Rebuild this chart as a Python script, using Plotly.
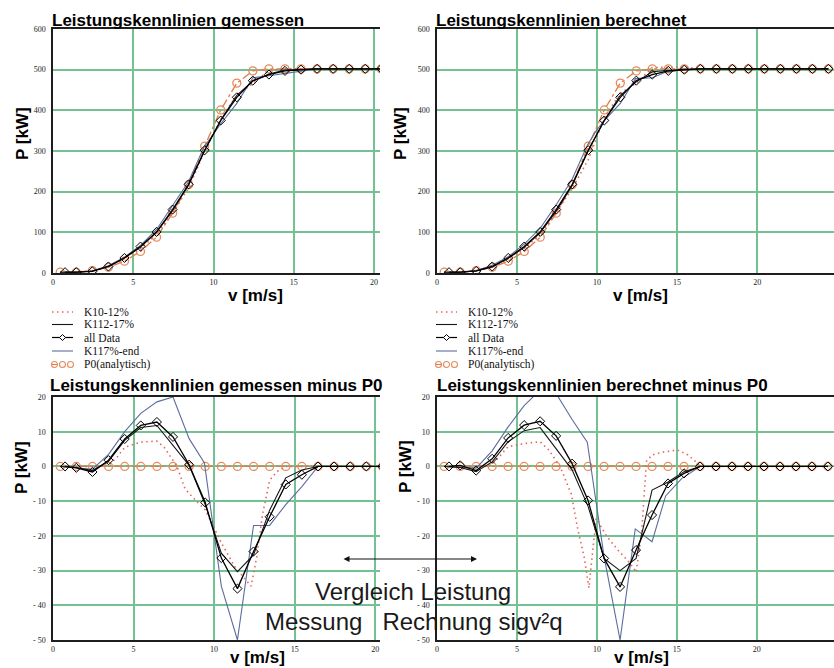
import plotly.graph_objects as go

# ------------------------------------------------------------------ data
SERIES = ["K10-12%", "K112-17%", "all Data", "K117%-end", "P0(analytisch)"]

TITLES = ["Leistungskennlinien gemessen", "Leistungskennlinien berechnet",
          "Leistungskennlinien gemessen minus P0", "Leistungskennlinien berechnet minus P0"]
X_TITLE = "v [m/s]"
Y_TITLE = "P [kW]"

X_TICKS = [0, 5, 10, 15, 20, 25]
X_TICKTEXT = ["0", "5", "10", "15", "20", "25"]
Y_TICKS_TOP = [0, 100, 200, 300, 400, 500, 600]
Y_TICKTEXT_TOP = ["0", "100", "200", "300", "400", "500", "600"]
Y_TICKS_BOT = [-50, -40, -30, -20, -10, 0, 10, 20]
Y_TICKTEXT_BOT = ["- 50", "- 40", "- 30", "- 20", "- 10", "0", "10", "20"]

# wind speed bins
X_L = [0.45, 1.45, 2.45, 3.45, 4.45, 5.45, 6.45, 7.45, 8.45, 9.45, 10.45, 11.45, 12.45,
       13.45, 14.45, 15.45, 16.45, 17.45, 18.45, 19.45, 20.45]
X_R = [0.45, 1.45, 2.45, 3.45, 4.45, 5.45, 6.45, 7.45, 8.45, 9.45, 10.45, 11.45, 12.45,
       13.45, 14.45, 15.45, 16.45, 17.45, 18.45, 19.45, 20.45, 21.45, 22.45, 23.45, 24.45]
X_ALL_L = [0.75, 1.45, 2.45, 3.45, 4.45, 5.45, 6.45, 7.45, 8.45, 9.45, 10.45, 11.45, 12.45,
           13.45, 14.45, 15.45, 16.45, 17.45, 18.45, 19.45, 20.45]
X_ALL_R = [0.75, 1.45, 2.45, 3.45, 4.45, 5.45, 6.45, 7.45, 8.45, 9.45, 10.45, 11.45, 12.45,
           13.45, 14.45, 15.45, 16.45, 17.45, 18.45, 19.45, 20.45, 21.45, 22.45, 23.45, 24.45]

# P0 (analytic) power curve
P0_TL = [2, 2, 6, 14, 29, 53, 88, 147, 217, 312, 401, 467, 497, 502, 502, 502, 502, 502, 502, 502, 502]
P0_TR = [2, 2, 6, 14, 29, 53, 88, 147, 217, 312, 401, 467, 497, 502, 502, 502, 502, 502, 502, 502, 502,
         502, 502, 502, 502]
P0_BL = [0, 0, 0, 0, 0, 0, 0, 0, 0, 0, 0, 0, 0, 0, 0, 0, 0, 0, 0, 0, 0]
P0_BR = [0, 0, 0, 0, 0, 0, 0, 0, 0, 0, 0, 0, 0, 0, 0, 0, 0, 0, 0, 0, 0, 0, 0, 0, 0]

# top-left (gemessen)
TL_K10 = [2, 2, 6, 15, 35, 60, 95, 148, 209, 300, 379, 437, 466, 498, 502, 502, 502, 502, 502, 502, 502]
TL_K112 = [2, 2, 5, 16, 37, 64, 100, 153, 217, 301, 376, 437, 472, 489, 499, 501, 502, 502, 502, 502, 502]
TL_ALL = [2, 2, 4, 16, 37, 65, 101, 156, 218, 302, 375, 432, 473, 488, 497, 500, 502, 502, 502, 502, 502]
TL_K117_X = [0.45, 1.45, 2.45, 3.45, 4.45, 5.45, 6.45, 7.45, 8.45, 9.4, 10.45, 11.45, 12.45, 13.45,
             14.45, 15.45, 16.45, 17.45, 18.45, 19.45, 20.45]
TL_K117 = [2, 2, 5, 18, 39, 68, 107, 167, 225, 309, 367, 417, 480, 485, 491, 496, 502, 502, 502, 502, 502]

# top-right (berechnet)
TR_K10 = [2, 2, 6, 15, 35, 60, 95, 149, 208, 279, 382, 442, 467, 505, 506, 506, 502, 502, 502, 502, 502,
          502, 502, 502, 502]
TR_K112 = [2, 2, 5, 15, 36, 63, 99, 152, 216, 301, 375, 437, 470, 495, 498, 501, 502, 502, 502, 502, 502,
           502, 502, 502, 502]
TR_ALL = [2, 2, 5, 16, 37, 65, 101, 156, 218, 302, 375, 432, 473, 488, 497, 500, 502, 502, 502, 502, 502,
          502, 502, 502, 502]
TR_K117_X = [0.45, 1.45, 2.45, 3.45, 4.45, 5.45, 6.45, 7.45, 8.45, 9.4, 9.95, 10.45, 11.45, 12.4, 13.45,
             14.3, 15.3, 16.45, 17.45, 18.45, 19.45, 20.45, 21.45, 22.45, 23.45, 24.45]
TR_K117 = [2, 2, 6, 19, 40, 71, 110, 168, 231, 315, 350, 375, 417, 478, 480, 494, 499, 502, 502, 502,
           502, 502, 502, 502, 502, 502]

# bottom-left (gemessen minus P0)
BL_K10_X = [0.45, 1.45, 2.45, 3.45, 4.0, 4.45, 5.45, 6.45, 6.9, 7.7, 8.2, 8.9, 9.45, 10.45, 11.3, 12.3,
            12.65, 13.0, 13.45, 13.9, 14.45, 15.45, 16.45, 17.45, 18.45, 19.45, 20.45]
BL_K10 = [0, 0, 0, 0.3, 2.8, 5.5, 7.0, 7.3, 5.5, 0, -6.5, -10, -12.5, -22, -29, -34.5,
          -26, -14, -4, -1.5, 0, 0, 0, 0, 0, 0, 0]
BL_K112 = [0, -0.3, -1.2, 1.5, 7.5, 11.2, 11.8, 6.2, 0.3, -11, -25, -30.3, -25.5, -12.6, -3.3, -1,
           0, 0, 0, 0, 0]
BL_ALL = [0, -0.4, -1.6, 1.8, 7.9, 11.8, 12.8, 8.5, 0.5, -10.4, -26.4, -35.2, -24.5, -14.5, -5.2, -2.4,
          0, 0, 0, 0, 0]
BL_K117_X = [0.45, 1.45, 2.45, 3.45, 4.45, 5.45, 6.45, 7.45, 8.45, 9.4, 10.45, 11.45, 12.45, 13.45,
             14.45, 15.45, 16.45, 17.45, 18.45, 19.45, 20.45]
BL_K117 = [0, -0.3, -0.8, 3.5, 10, 15.3, 18.6, 20, 8, 1, -34.5, -50, -17, -17, -11, -5.8,
           0, 0, 0, 0, 0]

# bottom-right (berechnet minus P0)
BR_K10_X = [0.45, 1.45, 2.45, 3.45, 4.0, 4.45, 5.45, 6.45, 7.0, 7.7, 8.4, 8.8, 9.2, 9.5, 9.95, 10.6,
            11.3, 12.1, 12.45, 12.8, 13.1, 13.45, 14.2, 15.05, 15.7, 16.3, 16.45, 17.45, 18.45, 19.45,
            20.45, 21.45, 22.45, 23.45, 24.45]
BR_K10 = [0, 0, 0, 0.5, 3.3, 5.7, 6.6, 7.1, 4.7, 0, -8, -18, -26, -35, -15, -20,
          -24, -28, -30.5, -19, 1.5, 3.3, 4.2, 4.7, 3.3, 0.9, 0, 0, 0, 0,
          0, 0, 0, 0, 0]
BR_K112 = [0, -0.3, -1.5, 1.3, 7.1, 10.3, 11.2, 5.2, -1.0, -11.5, -26.5, -30, -26.5, -6.8, -4.5, -1.5,
           0, 0, 0, 0, 0, 0, 0, 0, 0]
BR_ALL = [0, 0.3, -1.2, 2.2, 8.2, 11.9, 13.0, 8.8, 0.8, -9.8, -26.5, -34.7, -24.1, -14, -4.9, -2,
          0, 0, 0, 0, 0, 0, 0, 0, 0]
BR_K117_X = [0.45, 1.45, 2.45, 3.45, 4.45, 5.45, 6.45, 7.45, 8.45, 9.4, 9.95, 10.45, 11.45, 12.4, 13.45,
             14.3, 15.3, 16.45, 17.45, 18.45, 19.45, 20.45, 21.45, 22.45, 23.45, 24.45]
BR_K117 = [0, -0.3, -0.5, 4.5, 11.4, 17.5, 22, 21, 13.5, 7, -10, -26, -50, -18, -21.7,
           -8.5, -3.5, 0, 0, 0, 0, 0, 0, 0, 0, 0]

NOTE_1 = "Vergleich Leistung"
NOTE_2 = "Messung\u00a0\u00a0 Rechnung sigv²q"

# ------------------------------------------------------------------ style
W, H = 834, 668


def px(x):
    return x / W


def py(y):
    return 1 - y / H


GRID = "#74c293"
AXLINE = "#1e1e1e"
C_K10 = "#e3675a"
C_K112 = "#161616"
C_ALL = "#000000"
C_K117 = "#5d6c9c"
C_P0_LINE = "#e27a45"
C_P0_MARK = "#e68a5c"
SANS = "Liberation Sans, Arial, sans-serif"
SERIF = "Liberation Serif, Times New Roman, serif"
DOTS = "1.5px,3.5px"

fig = go.Figure()


def add_panel(xa, ya, p0x, p0y, k10x, k10y, k112x, k112y, allx, ally, k117x, k117y):
    fig.add_trace(go.Scatter(
        x=p0x, y=p0y, xaxis=xa, yaxis=ya, name=SERIES[4], mode="lines+markers",
        line=dict(color=C_P0_LINE, width=1.3, dash="dashdot"),
        marker=dict(symbol="circle-open", size=8, color=C_P0_MARK, line=dict(width=1.3))))
    fig.add_trace(go.Scatter(
        x=k10x, y=k10y, xaxis=xa, yaxis=ya, name=SERIES[0], mode="lines",
        line=dict(color=C_K10, width=1.6, dash=DOTS)))
    fig.add_trace(go.Scatter(
        x=k117x, y=k117y, xaxis=xa, yaxis=ya, name=SERIES[3], mode="lines",
        line=dict(color=C_K117, width=1.1)))
    fig.add_trace(go.Scatter(
        x=k112x, y=k112y, xaxis=xa, yaxis=ya, name=SERIES[1], mode="lines",
        line=dict(color=C_K112, width=1.1)))
    fig.add_trace(go.Scatter(
        x=allx, y=ally, xaxis=xa, yaxis=ya, name=SERIES[2], mode="lines+markers",
        line=dict(color=C_ALL, width=1.3),
        marker=dict(symbol="diamond-open", size=7, color=C_ALL, line=dict(width=1))))


add_panel("x", "y", X_L, P0_TL, X_L, TL_K10, X_L, TL_K112, X_ALL_L, TL_ALL, TL_K117_X, TL_K117)
add_panel("x2", "y2", X_R, P0_TR, X_R, TR_K10, X_R, TR_K112, X_ALL_R, TR_ALL, TR_K117_X, TR_K117)
add_panel("x3", "y3", X_L, P0_BL, BL_K10_X, BL_K10, X_L, BL_K112, X_ALL_L, BL_ALL, BL_K117_X, BL_K117)
add_panel("x4", "y4", X_R, P0_BR, BR_K10_X, BR_K10, X_R, BR_K112, X_ALL_R, BR_ALL, BR_K117_X, BR_K117)


def xcfg(domain, rng, anchor):
    return dict(domain=domain, range=rng, anchor=anchor, tickvals=X_TICKS, ticktext=X_TICKTEXT,
                showgrid=True, gridcolor=GRID, gridwidth=2, zeroline=False,
                showline=True, linecolor=AXLINE, linewidth=1.5, mirror=True, ticks="",
                ticklabelstandoff=1,
                tickfont=dict(family=SERIF, size=8, color="#222"), automargin=False, fixedrange=True)


def ycfg(domain, rng, anchor, vals, text):
    return dict(domain=domain, range=rng, anchor=anchor, tickvals=vals, ticktext=text,
                showgrid=True, gridcolor=GRID, gridwidth=2, zeroline=False,
                showline=True, linecolor=AXLINE, linewidth=1.5, mirror=False, ticks="",
                ticklabelstandoff=4,
                tickfont=dict(family=SERIF, size=8, color="#222"), automargin=False, fixedrange=True)


TOP_DOM = [py(273), py(29)]
BOT_DOM = [py(640), py(397)]
LEFT_DOM = [px(53), px(380)]
RIGHT_DOM = [px(437), 1.0]

fig.update_layout(
    xaxis=xcfg(LEFT_DOM, [0, 20.37], "y"),
    yaxis=ycfg(TOP_DOM, [0, 600], "x", Y_TICKS_TOP, Y_TICKTEXT_TOP),
    xaxis2=xcfg(RIGHT_DOM, [0, 24.8], "y2"),
    yaxis2=ycfg(TOP_DOM, [0, 600], "x2", Y_TICKS_TOP, Y_TICKTEXT_TOP),
    xaxis3=xcfg(LEFT_DOM, [0, 20.3], "y3"),
    yaxis3=ycfg(BOT_DOM, [-50, 20], "x3", Y_TICKS_BOT, Y_TICKTEXT_BOT),
    xaxis4=xcfg(RIGHT_DOM, [0, 24.83], "y4"),
    yaxis4=ycfg(BOT_DOM, [-50, 20], "x4", Y_TICKS_BOT, Y_TICKTEXT_BOT),
)

annotations = []
shapes = []

# panel titles
for text, (x0, yc) in zip(TITLES, [(50, 20), (434, 20), (48, 385), (435, 385)]):
    annotations.append(dict(text="<b>%s</b>" % text, x=px(x0), y=py(yc), xref="paper", yref="paper",
                            xanchor="left", yanchor="middle", showarrow=False,
                            font=dict(family=SANS, size=17, color="#000")))

# axis titles
for (xc, yc) in [(255, 296), (640, 296), (257, 657), (641, 657)]:
    annotations.append(dict(text="<b>%s</b>" % X_TITLE, x=px(xc), y=py(yc), xref="paper", yref="paper",
                            xanchor="center", yanchor="middle", showarrow=False,
                            font=dict(family=SANS, size=17, color="#000")))
for (xc, yc) in [(23, 134), (401, 134), (21, 468), (405, 467)]:
    annotations.append(dict(text="<b>%s</b>" % Y_TITLE, x=px(xc), y=py(yc), xref="paper", yref="paper",
                            xanchor="center", yanchor="middle", showarrow=False, textangle=-90,
                            font=dict(family=SANS, size=17, color="#000")))

# manual compact legends (one under each upper panel)
ROWS = [312, 324.5, 337.5, 351, 364.5]


def legend_block(x0):
    def hline(y, color, width, dash="solid", xa=x0, xb=x0 + 21):
        shapes.append(dict(type="line", xref="paper", yref="paper", x0=px(xa), x1=px(xb),
                           y0=py(y), y1=py(y), line=dict(color=color, width=width, dash=dash)))

    hline(ROWS[0], C_K10, 1.4, DOTS)
    hline(ROWS[1], C_K112, 1.1)
    hline(ROWS[2], C_ALL, 1.2)
    cx, cy = x0 + 10.5, ROWS[2]
    shapes.append(dict(type="path", xref="paper", yref="paper",
                       path="M %f,%f L %f,%f L %f,%f L %f,%f Z" % (
                           px(cx), py(cy - 3), px(cx + 3), py(cy), px(cx), py(cy + 3), px(cx - 3), py(cy)),
                       fillcolor="white", line=dict(color=C_ALL, width=1)))
    hline(ROWS[3], C_K117, 1.1)
    hline(ROWS[4], C_P0_LINE, 1.0, "solid", x0, x0 + 5)
    for dx in (2.5, 10.5, 18.5):
        shapes.append(dict(type="circle", xref="paper", yref="paper",
                           x0=px(x0 + dx - 3), x1=px(x0 + dx + 3), y0=py(ROWS[4] + 3), y1=py(ROWS[4] - 3),
                           line=dict(color=C_P0_MARK, width=1.1)))
    for lab, y in zip(SERIES, ROWS):
        annotations.append(dict(text=lab, x=px(x0 + 30), y=py(y), xref="paper", yref="paper",
                                xanchor="left", yanchor="middle", showarrow=False,
                                font=dict(family=SERIF, size=11.5, color="#111")))


legend_block(52)
legend_block(436)

# comparison note with double arrow
annotations.append(dict(x=px(477), y=py(559), xref="paper", yref="paper", ax=-135, ay=0,
                        axref="pixel", ayref="pixel", text="", showarrow=True,
                        arrowhead=2, arrowside="end+start", arrowsize=1, arrowwidth=1.2,
                        arrowcolor="#111"))
annotations.append(dict(text=NOTE_1, x=px(413), y=py(591), xref="paper", yref="paper",
                        xanchor="center", yanchor="middle", showarrow=False,
                        font=dict(family=SANS, size=24, color="#1a1a1a")))
annotations.append(dict(text=NOTE_2, x=px(414), y=py(621), xref="paper", yref="paper",
                        xanchor="center", yanchor="middle", showarrow=False,
                        font=dict(family=SANS, size=24, color="#1a1a1a")))

fig.update_layout(
    width=W, height=H,
    margin=dict(l=0, r=0, t=0, b=0, autoexpand=False),
    paper_bgcolor="white", plot_bgcolor="white",
    showlegend=False,
    annotations=annotations, shapes=shapes,
)

fig.write_html("out.html")
